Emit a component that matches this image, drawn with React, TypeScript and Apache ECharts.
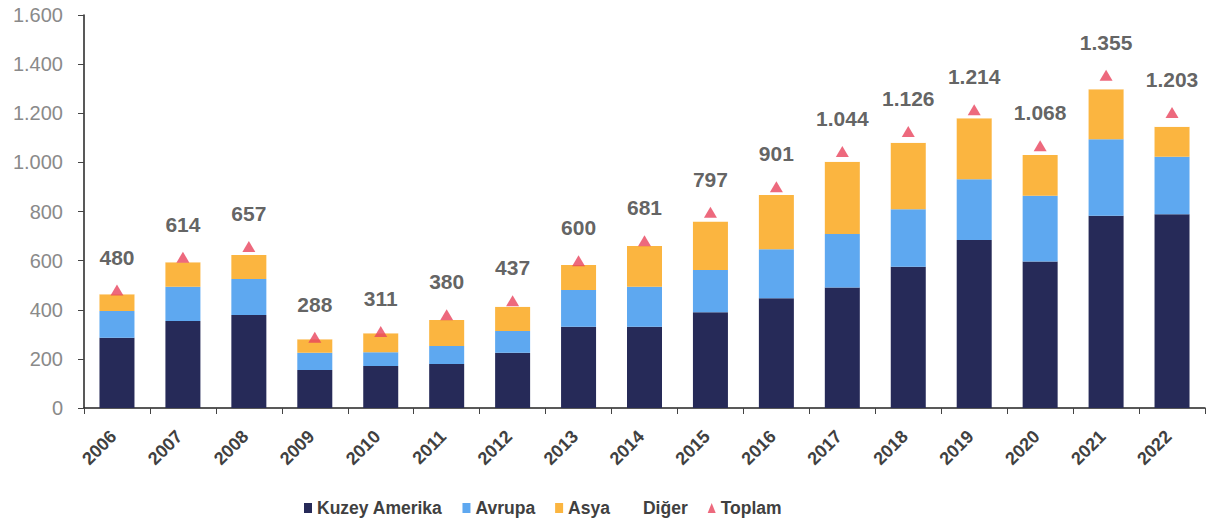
import React, { useEffect, useRef } from "react";
import * as echarts from "echarts";

const years = ["2006","2007","2008","2009","2010","2011","2012","2013","2014","2015","2016","2017","2018","2019","2020","2021","2022"];
const kuzeyAmerika = [286, 354, 379, 155, 171, 179, 225, 331, 331, 390, 447, 491, 575, 684, 596, 783, 789];
const avrupa = [109, 140, 146, 70, 56, 73, 88, 149, 163, 172, 199, 217, 234, 247, 268, 311, 234];
const asya = [68, 99, 98, 55, 77, 106, 99, 102, 166, 197, 221, 295, 271, 249, 166, 204, 122];
const toplam = [480, 614, 657, 288, 311, 380, 437, 600, 681, 797, 901, 1044, 1126, 1214, 1068, 1355, 1203];
const diger = toplam.map((t, i) => t - kuzeyAmerika[i] - avrupa[i] - asya[i]);
const yTicks = [0, 200, 400, 600, 800, 1000, 1200, 1400, 1600];

const fmt = (v: number) => String(v).replace(/\B(?=(\d{3})+(?!\d))/g, ".");

export default function App() {
  const ref = useRef<HTMLDivElement>(null);
  useEffect(() => {
    const chart = echarts.init(ref.current!, null, { renderer: "svg" });
    const font = "Liberation Sans, Arial, sans-serif";
    const barCommon = { type: "bar", stack: "total", barWidth: 35 };
    chart.setOption({
      animation: false,
      textStyle: { fontFamily: font },
      grid: { left: 84, right: 3, top: 15, bottom: 119, containLabel: false },
      legend: {
        bottom: 5,
        left: 299,
        itemGap: 20,
        itemWidth: 8,
        itemHeight: 10,
        textStyle: { fontFamily: font, fontWeight: "bold", fontSize: 17.5, color: "#404040" },
        data: [
          { name: "Kuzey Amerika", icon: "rect" },
          { name: "Avrupa", icon: "rect" },
          { name: "Asya", icon: "rect" },
          { name: "Diğer", icon: "rect" },
          { name: "Toplam", icon: "triangle" },
        ],
      },
      xAxis: {
        type: "category",
        data: years,
        axisLine: { lineStyle: { color: "#222", width: 1.5 } },
        axisTick: { show: true, length: 6, lineStyle: { color: "#444" } },
        axisLabel: { rotate: 45, fontSize: 18, fontWeight: "bold", color: "#404040", margin: 22, padding: [0, 5, 0, 0], fontFamily: font },
      },
      yAxis: {
        type: "value",
        min: 0,
        max: yTicks[yTicks.length - 1],
        interval: 200,
        splitLine: { show: false },
        axisLine: { show: true, lineStyle: { color: "#222", width: 1.5 } },
        axisTick: { show: true, length: 6, lineStyle: { color: "#444" } },
        axisLabel: { fontSize: 20, color: "#8a8a8a", margin: 21, formatter: (v: number) => fmt(v), fontFamily: font },
      },
      series: [
        { ...barCommon, name: "Kuzey Amerika", data: kuzeyAmerika, itemStyle: { color: "#262a58" } },
        { ...barCommon, name: "Avrupa", data: avrupa, itemStyle: { color: "#5ea8f0" } },
        { ...barCommon, name: "Asya", data: asya, itemStyle: { color: "#fbb540" } },
        { ...barCommon, name: "Diğer", data: diger, itemStyle: { color: "#ffffff" } },
        {
          type: "scatter",
          name: "Toplam",
          data: toplam,
          symbol: "triangle",
          symbolSize: [13, 11],
          itemStyle: { color: "#e8435c" },
          z: 5,
          label: {
            show: true,
            position: "top",
            distance: 17,
            fontSize: 21,
            fontWeight: "bold",
            color: "#3a3a3a",
            fontFamily: font,
            formatter: (p: any) => fmt(p.value),
          },
        },
      ],
    });
    return () => chart.dispose();
  }, []);
  return <div ref={ref} style={{ position: "absolute", left: 0, top: 0, width: 1208, height: 527, background: "#fff" }} />;
}
